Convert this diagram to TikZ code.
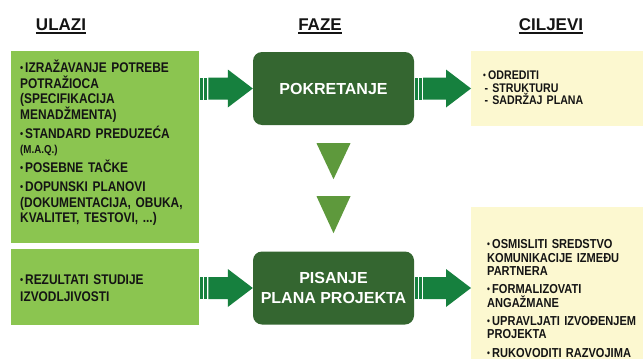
\documentclass[tikz,border=0pt]{standalone}
\usepackage{fontspec}
\setmainfont{Liberation Sans}
\newfontfamily\listfont{Liberation Sans}[FakeStretch=0.85]
\usetikzlibrary{calc}

\definecolor{inputgreen}{RGB}{139,197,80}
\definecolor{phasegreen}{RGB}{52,102,48}
\definecolor{arrowgreen}{RGB}{22,128,62}
\definecolor{trigreen}{RGB}{94,153,60}
\definecolor{goalyellow}{RGB}{252,248,208}
\definecolor{inktext}{RGB}{20,20,20}

% bulleted entry with hanging indent; optional arg = space before it
\newcommand\bitem[2][3.5pt]{\par\vspace{#1}\hangindent=5pt\hangafter=1\noindent
  \makebox[5pt][l]{\raisebox{1pt}{\scalebox{0.75}{\textbullet}}}#2}

% striped fat arrow between two points on one horizontal line
\newcommand\fatarrow[2]{%
  \fill[arrowgreen] ($(#1)+(1,-11)$) rectangle ($(#1)+(3.5,11)$);
  \fill[arrowgreen] ($(#1)+(5,-11)$) rectangle ($(#1)+(7.5,11)$);
  \fill[arrowgreen] ($(#1)+(9,-11)$) -- ($(#2)+(-25,-11)$) -- ($(#2)+(-25,-19)$)
    -- (#2) -- ($(#2)+(-25,19)$) -- ($(#2)+(-25,11)$) -- ($(#1)+(9,11)$) -- cycle;
}

\begin{document}
\begin{tikzpicture}[x=1pt,y=-1pt,
  panel/.style={draw=none,inner sep=0pt,anchor=north west},
  phase/.style={fill=phasegreen,rounded corners=9pt,minimum width=161pt,
    minimum height=73pt,text=white,align=center,inner sep=0pt,
    font=\fontsize{16}{20}\selectfont\bfseries},
  head/.style={inner sep=0pt,anchor=base,text=inktext,
    font=\fontsize{17}{20}\selectfont\bfseries},
  listtext/.style={inner sep=0pt,anchor=north west,align=left,text=inktext,
    text width=200pt},
]
\useasboundingbox (0,0) rectangle (643,359);
\fill[white] (0,0) rectangle (643,359);

% column headings
\node[head] (hin) at (61,30) {ULAZI};
\node[head] (hphase) at (320,30) {FAZE};
\node[head] (hgoal) at (551,30) {CILJEVI};
\foreach \h in {hin,hphase,hgoal}
  \draw[inktext,line width=2pt] ($(\h.base west)+(0,3)$) -- ($(\h.base east)+(0,3)$);

% input panels
\node[panel,fill=inputgreen,minimum width=188pt,minimum height=192pt] (in1) at (11,51) {};
\node[panel,fill=inputgreen,minimum width=188pt,minimum height=76pt] (in2) at (11,249) {};

% goal panels
\node[panel,fill=goalyellow,minimum width=175pt,minimum height=75pt] (out1) at (471,51) {};
\node[panel,fill=goalyellow,minimum width=175pt,minimum height=155pt] (out2) at (471,207) {};

% phases
\node[phase] (start) at (333.5,88.5) {POKRETANJE};
\node[phase] (write) at (333.5,288) {PISANJE\\PLANA PROJEKTA};

% arrows
\fatarrow{in1.east |- start.west}{start.west}
\fatarrow{start.east}{out1.west |- start.east}
\fatarrow{in2.east |- write.west}{write.west}
\fatarrow{write.east}{out2.west |- write.east}

% downward triangles between phases
\fill[trigreen] ($(start.south)+(-17,18)$) -- ++(34,0) -- ++(-17,36) -- cycle;
\fill[trigreen] ($(start.south)+(-17,71)$) -- ++(34,0) -- ++(-17,37) -- cycle;

% texts of the input panels
\node[listtext,font=\listfont\fontsize{14}{15.5}\selectfont\bfseries] (in1t) at (20,57) {%
  \bitem[0pt]{IZRAŽAVANJE POTREBE\\POTRAŽIOCA\\(SPECIFIKACIJA\\MENADŽMENTA)}
  \bitem{STANDARD PREDUZEĆA\\{\fontsize{11.5}{15.5}\selectfont(M.A.Q.)}}
  \bitem{POSEBNE TAČKE}
  \bitem{DOPUNSKI PLANOVI\\(DOKUMENTACIJA, OBUKA,\\KVALITET, TESTOVI, ...)}\par};
\node[listtext,font=\listfont\fontsize{14}{16.5}\selectfont\bfseries] (in2t) at (20,268) {%
  \bitem[0pt]{REZULTATI STUDIJE\\IZVODLJIVOSTI}\par};

% texts of the goal panels
\node[listtext,font=\listfont\fontsize{12.5}{12.5}\selectfont\bfseries] (out1t) at (483,67) {%
  \bitem[0pt]{ODREDITI}\par\noindent\hspace*{1.5pt}- STRUKTURU\par\noindent\hspace*{1.5pt}- SADRŽAJ PLANA\par};
\node[listtext,font=\listfont\fontsize{13}{13.5}\selectfont\bfseries] (out2t) at (487,235) {%
  \bitem[0pt]{OSMISLITI SREDSTVO\\KOMUNIKACIJE IZMEĐU\\PARTNERA}
  \bitem[4.5pt]{FORMALIZOVATI\\ANGAŽMANE}
  \bitem[4.5pt]{UPRAVLJATI IZVOĐENJEM\\PROJEKTA}
  \bitem[5pt]{RUKOVODITI RAZVOJIMA}\par};
\end{tikzpicture}
\end{document}
